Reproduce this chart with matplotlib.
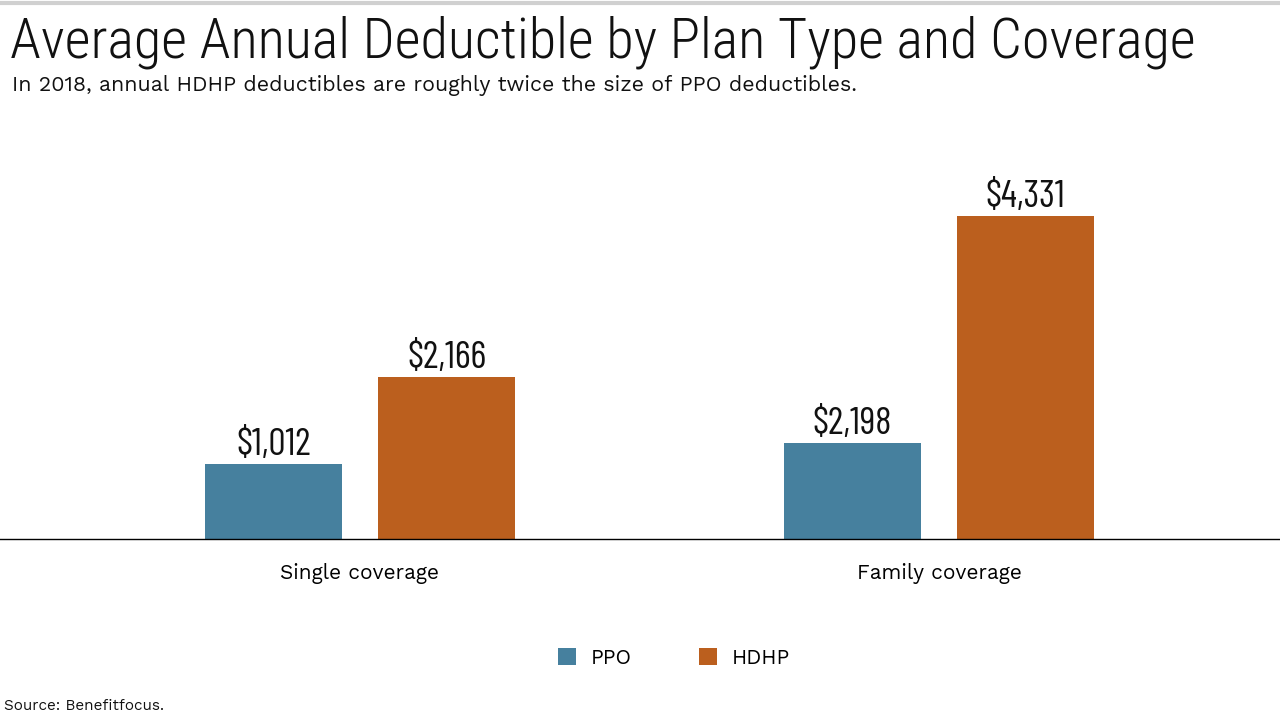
import matplotlib
matplotlib.use("Agg")
import matplotlib.pyplot as plt
import numpy as np

categories = ["Single coverage", "Family coverage"]
series_names = ["PPO", "HDHP"]
# bar heights as drawn in the reference
ppo = [1006, 1287]
hdhp = [2166, 4331]
# value labels as printed in the reference
ppo_labels = ["\\$1,012", "\\$2,198"]
hdhp_labels = ["\\$2,166", "\\$4,331"]
colors = ["#46809E", "#BB5F1E"]

SANS = ["Work Sans", "Open Sans", "DejaVu Sans"]
W, H = 1280, 720
fig = plt.figure(figsize=(12.8, 7.2), dpi=100)

ax_bottom = (H - 539) / H
ax_top = (H - 140) / H
ax = fig.add_axes([0, ax_bottom, 1, ax_top - ax_bottom])

x = np.arange(len(categories))
width = 0.2383
off = 0.1494
b1 = ax.bar(x - off, ppo, width, color=colors[0], label=series_names[0])
b2 = ax.bar(x + off, hdhp, width, color=colors[1], label=series_names[1])

ax.set_xlim(-360 / 579, (1280 - 360) / 579)
ax.set_ylim(0, 4331 * 399 / 323)

for bars, vals, labs in ((b1, ppo, ppo_labels), (b2, hdhp, hdhp_labels)):
    for r, v, lab in zip(bars, vals, labs):
        ax.annotate(lab, (r.get_x() + r.get_width() / 2, v),
                    xytext=(0, 1), textcoords="offset points",
                    ha="center", va="bottom", fontsize=27.5,
                    family=["Barlow Condensed", "DejaVu Sans"], color="#111111")

for s in ["top", "left", "right"]:
    ax.spines[s].set_visible(False)
ax.spines["bottom"].set_color("#000000")
ax.spines["bottom"].set_linewidth(1.0)
ax.set_yticks([])
ax.set_xticks(x)
ax.set_xticklabels(categories, fontsize=15, family=SANS)
ax.tick_params(axis="x", length=0, pad=17)

fig.text(10 / W, 1 - 42 / H, "Average Annual Deductible by Plan Type and Coverage",
         fontsize=40.5, family=["Roboto Condensed", "DejaVu Sans"], weight=300,
         va="center", ha="left", color="#111111")
fig.text(12 / W, 1 - 86 / H,
         "In 2018, annual HDHP deductibles are roughly twice the size of PPO deductibles.",
         fontsize=15.4, family=SANS, va="center", ha="left", color="#111111")
fig.text(4 / W, 1 - 706 / H, "Source: Benefitfocus.", fontsize=11, family=SANS,
         va="center", ha="left", color="#111111")

leg = fig.legend(handles=[b1, b2], labels=series_names, loc="center",
                 bbox_to_anchor=(674 / W, 1 - 658 / H), ncol=2, frameon=False,
                 prop={"family": SANS, "size": 15},
                 handlelength=0.9, handleheight=0.9, columnspacing=3.2, handletextpad=0.7)

fig.add_artist(plt.Line2D([0, 1], [1 - 3 / H, 1 - 3 / H], transform=fig.transFigure,
                          color="#d0d0d0", linewidth=3))

fig.savefig("out.png", dpi=100)
